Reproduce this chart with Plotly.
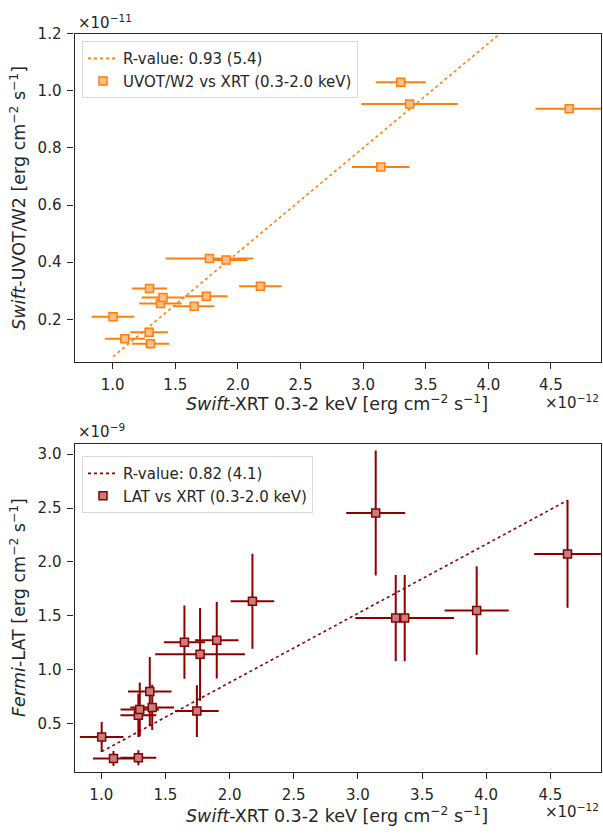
import plotly.graph_objects as go

# --- Swift-XRT (0.3-2 keV) vs Swift-UVOT/W2, fluxes in units of 1e-12 (x) and 1e-11 (y)
uvot_xrt = [1.003, 1.097, 1.291, 1.294, 1.302, 1.382, 1.402, 1.651, 1.748, 1.773,
            1.906, 2.180, 3.141, 3.301, 3.372, 4.646]
uvot_xrt_err = [0.17, 0.16, 0.15, 0.14, 0.15, 0.17, 0.17, 0.16, 0.17, 0.35,
                0.17, 0.17, 0.23, 0.20, 0.385, 0.27]
uvot_flux = [0.209, 0.132, 0.155, 0.3075, 0.114, 0.255, 0.276, 0.246, 0.281, 0.413,
             0.408, 0.316, 0.733, 1.030, 0.954, 0.937]
uvot_fit = {"slope": 0.366, "intercept": -0.298}
uvot_label_r = "R-value: 0.93 (5.4)"
uvot_label = "UVOT/W2 vs XRT (0.3-2.0 keV)"

# --- Swift-XRT (0.3-2 keV) vs Fermi-LAT, fluxes in units of 1e-12 (x) and 1e-9 (y)
lat_xrt = [1.003, 1.095, 1.289, 1.289, 1.300, 1.378, 1.397, 1.648, 1.745, 1.770,
           1.900, 2.178, 3.139, 3.295, 3.365, 3.926, 4.634]
lat_xrt_err = [0.17, 0.16, 0.14, 0.14, 0.15, 0.17, 0.17, 0.16, 0.17, 0.35,
               0.17, 0.17, 0.23, 0.20, 0.385, 0.25, 0.26]
lat_flux = [0.375, 0.176, 0.182, 0.576, 0.631, 0.797, 0.650, 1.255, 0.616, 1.142,
            1.274, 1.635, 2.454, 1.479, 1.479, 1.549, 2.074]
lat_flux_err = [0.14, 0.07, 0.07, 0.20, 0.25, 0.32, 0.21, 0.34, 0.24, 0.43,
                0.355, 0.44, 0.58, 0.40, 0.40, 0.41, 0.50]
lat_fit = {"slope": 0.642, "intercept": -0.404}
lat_label_r = "R-value: 0.82 (4.1)"
lat_label = "LAT vs XRT (0.3-2.0 keV)"

ORANGE = "#ff7f0e"
ORANGE_FILL = "#ffbf86"
DARKRED = "#8b0000"
DARKRED_FILL = "#c57f7f"
INK = "#262626"
FONT = "DejaVu Sans"

W, H = 603, 834
x_dom = [74.6 / W, 601 / W]
top_dom = [1 - 357 / H, 1 - 25 / H]
bot_dom = [1 - 771.7 / H, 1 - 439.3 / H]

fig = go.Figure()


def fit_line(xs, fit):
    lo, hi = min(xs), max(xs)
    return [lo, hi], [fit["intercept"] + fit["slope"] * lo, fit["intercept"] + fit["slope"] * hi]


# top panel
fx, fy = fit_line(uvot_xrt, uvot_fit)
fig.add_trace(go.Scatter(x=fx, y=fy, mode="lines", name=uvot_label_r,
                         line=dict(color=ORANGE, width=1.6, dash="dot"),
                         xaxis="x", yaxis="y", legend="legend"))
fig.add_trace(go.Scatter(x=uvot_xrt, y=uvot_flux, mode="markers", name=uvot_label,
                         error_x=dict(type="data", array=uvot_xrt_err, color=ORANGE,
                                      thickness=2, width=0),
                         marker=dict(symbol="square", size=8, color=ORANGE_FILL,
                                     line=dict(color=ORANGE, width=1.5)),
                         xaxis="x", yaxis="y", legend="legend"))

# bottom panel
fx, fy = fit_line(lat_xrt, lat_fit)
fig.add_trace(go.Scatter(x=fx, y=fy, mode="lines", name=lat_label_r,
                         line=dict(color=DARKRED, width=1.6, dash="dot"),
                         xaxis="x2", yaxis="y2", legend="legend2"))
fig.add_trace(go.Scatter(x=lat_xrt, y=lat_flux, mode="markers", name=lat_label,
                         error_x=dict(type="data", array=lat_xrt_err, color=DARKRED,
                                      thickness=2, width=0),
                         error_y=dict(type="data", array=lat_flux_err, color=DARKRED,
                                      thickness=2, width=0),
                         marker=dict(symbol="square", size=8, color=DARKRED_FILL,
                                     line=dict(color=DARKRED, width=1.5)),
                         xaxis="x2", yaxis="y2", legend="legend2"))

axis_common = dict(showline=True, mirror=True, linecolor=INK, linewidth=1.25,
                   ticks="outside", ticklen=6, tickwidth=1.25, tickcolor=INK,
                   showgrid=False, zeroline=False, ticklabelstandoff=3,
                   tickfont=dict(family=FONT, size=15, color=INK))

legend_common = dict(xanchor="left", yanchor="top",
                     bgcolor="rgba(255,255,255,0.8)", bordercolor="#d9d9d9", borderwidth=1,
                     font=dict(family=FONT, size=15, color=INK), tracegroupgap=0)

fig.update_layout(
    width=W, height=H,
    margin=dict(l=0, r=0, t=0, b=0),
    paper_bgcolor="white", plot_bgcolor="white",
    font=dict(family=FONT, color=INK),
    xaxis=dict(domain=x_dom, range=[0.696, 4.9], tickvals=[1.0, 1.5, 2.0, 2.5, 3.0, 3.5, 4.0, 4.5],
               tickformat=".1f", anchor="y", **axis_common),
    yaxis=dict(domain=top_dom, range=[0.05, 1.2], tickvals=[0.2, 0.4, 0.6, 0.8, 1.0, 1.2],
               tickformat=".1f", anchor="x", **axis_common),
    xaxis2=dict(domain=x_dom, range=[0.792, 4.895], tickvals=[1.0, 1.5, 2.0, 2.5, 3.0, 3.5, 4.0, 4.5],
                tickformat=".1f", anchor="y2", **axis_common),
    yaxis2=dict(domain=bot_dom, range=[0.047, 3.098], tickvals=[0.5, 1.0, 1.5, 2.0, 2.5, 3.0],
                tickformat=".1f", anchor="x2", **axis_common),
    legend=dict(x=82 / W, y=1 - 32.5 / H, **legend_common),
    legend2=dict(x=82 / W, y=1 - 452 / H, **legend_common),
)

x_title = "<i>Swift</i>-XRT 0.3-2 keV [erg cm<sup>−2</sup> s<sup>−1</sup>]"
annots = [
    dict(text=x_title, x=337 / W, y=1 - 398 / H, font=dict(size=17.5)),
    dict(text=x_title, x=337 / W, y=1 - 815 / H, font=dict(size=17.5)),
    dict(text="<i>Swift</i>-UVOT/W2 [erg cm<sup>−2</sup> s<sup>−1</sup>]", x=18 / W, y=1 - 191 / H,
         textangle=-90, font=dict(size=17.5)),
    dict(text="<i>Fermi</i>-LAT [erg cm<sup>−2</sup> s<sup>−1</sup>]", x=18 / W, y=1 - 605.5 / H,
         textangle=-90, font=dict(size=17.5)),
    dict(text="×10<sup>−11</sup>", x=76 / W, y=1 - 13 / H, xanchor="left", font=dict(size=15)),
    dict(text="×10<sup>−12</sup>", x=601 / W, y=1 - 397 / H, xanchor="right", font=dict(size=15)),
    dict(text="×10<sup>−9</sup>", x=76 / W, y=1 - 427 / H, xanchor="left", font=dict(size=15)),
    dict(text="×10<sup>−12</sup>", x=601 / W, y=1 - 811 / H, xanchor="right", font=dict(size=15)),
]
for a in annots:
    a.setdefault("xanchor", "center")
    a["font"].update(family=FONT, color=INK)
    fig.add_annotation(xref="paper", yref="paper", yanchor="middle", showarrow=False, **a)

fig.write_html("out.html")
